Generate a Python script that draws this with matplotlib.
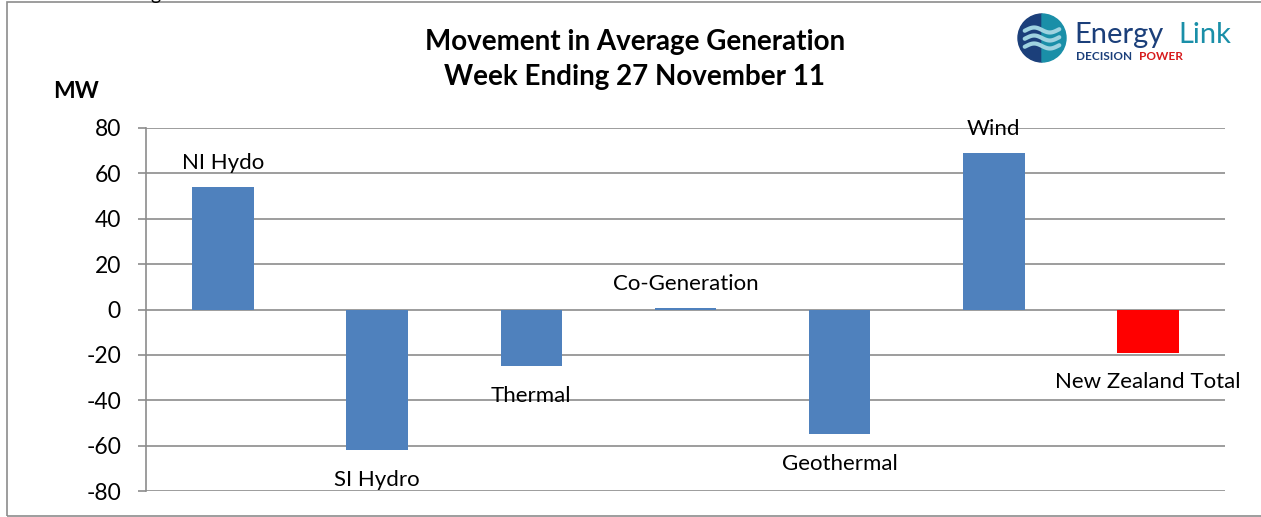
import matplotlib
matplotlib.use("Agg")
import matplotlib.pyplot as plt
from matplotlib.patches import Rectangle, Wedge
import numpy as np

categories = ["NI Hydo", "SI Hydro", "Thermal", "Co-Generation", "Geothermal", "Wind", "New Zealand Total"]
values = [54, -62, -25, 0.5, -55, 69, -19]
colors = ["#4F81BD"] * 6 + ["#FF0000"]
yticks = [-80, -60, -40, -20, 0, 20, 40, 60, 80]

plt.rcParams['font.family'] = ['Lato', 'DejaVu Sans']

W, H = 1261, 517
fig = plt.figure(figsize=(W / 100, H / 100), dpi=100)
ax = fig.add_axes([146 / W, 1 - 491 / H, (1225 - 146) / W, (491 - 128) / H])

x = np.arange(len(categories))
ax.bar(x, values, width=0.4, color=colors, zorder=3)
ax.set_xlim(-0.5, len(categories) - 0.5)
ax.set_ylim(-80, 80)
ax.set_yticks(yticks)
ax.set_yticklabels([str(v) for v in yticks], fontsize=16.5)
ax.set_xticks([])
ax.grid(axis='y', color='#8C8C8C', linewidth=1.2, zorder=0)
for s in ['top', 'right', 'bottom']:
    ax.spines[s].set_visible(False)
ax.spines['left'].set_color('#8C8C8C')
ax.spines['left'].set_linewidth(1.2)
ax.tick_params(axis='y', length=6, color='#8C8C8C', width=1.2, pad=12)

for xi, v, c in zip(x, values, categories):
    off = 17.5 if v >= 0 else -21.5
    ax.annotate(c, (xi, v), xytext=(0, off), textcoords='offset points',
                ha='center', va='center', fontsize=16)

fig.text(635 / W, 1 - 42 / H, "Movement in Average Generation", ha='center', va='center',
         fontsize=20, fontweight='bold')
fig.text(635 / W, 1 - 77.5 / H, "Week Ending 27 November 11", ha='center', va='center',
         fontsize=20, fontweight='bold')
fig.text(76 / W, 1 - 92 / H, "MW", ha='center', va='center', fontsize=16.5, fontweight='bold')
fig.text(150 / W, 1.0, "g", ha='left', va='baseline', fontsize=14)

# outer border
fig.patches.append(Rectangle((7 / W, 1 - 516 / H), (1280 - 7) / W, (516 - 2) / H,
                             transform=fig.transFigure, fill=False, edgecolor='#8C8C8C',
                             linewidth=1.2))

# logo (local pixel coords: x = px - 1010, y = py - 10)
lax = fig.add_axes([1010 / W, 1 - 72 / H, 230 / W, 62 / H])
lax.set_xlim(0, 230)
lax.set_ylim(62, 0)
lax.set_aspect('equal')
lax.axis('off')
cx, cy, r = 32, 28, 24
lax.add_patch(Wedge((cx, cy), r, 90, 270, color='#1B3F7A'))
lax.add_patch(Wedge((cx, cy), r, -90, 90, color='#1A8FA8'))
t = np.linspace(-r * 0.72, r * 0.72, 50)
for dy in (-8, 0, 8):
    lax.plot(cx + t, cy + dy + 2.5 * np.sin(t / 5), color='#9FD3E0', lw=3, solid_capstyle='round')
lax.text(64, 25, "Energy", fontsize=21, color='#1B3F7A', va='center', ha='left')
lax.text(168, 25, "Link", fontsize=21, color='#1A8FA8', va='center', ha='left')
lax.text(66, 46, "DECISION", fontsize=8.5, color='#1B3F7A', va='center', ha='left', fontweight='bold')
lax.text(129, 46, "POWER", fontsize=8.5, color='#D7191C', va='center', ha='left', fontweight='bold')

fig.savefig("out.png", dpi=100)
